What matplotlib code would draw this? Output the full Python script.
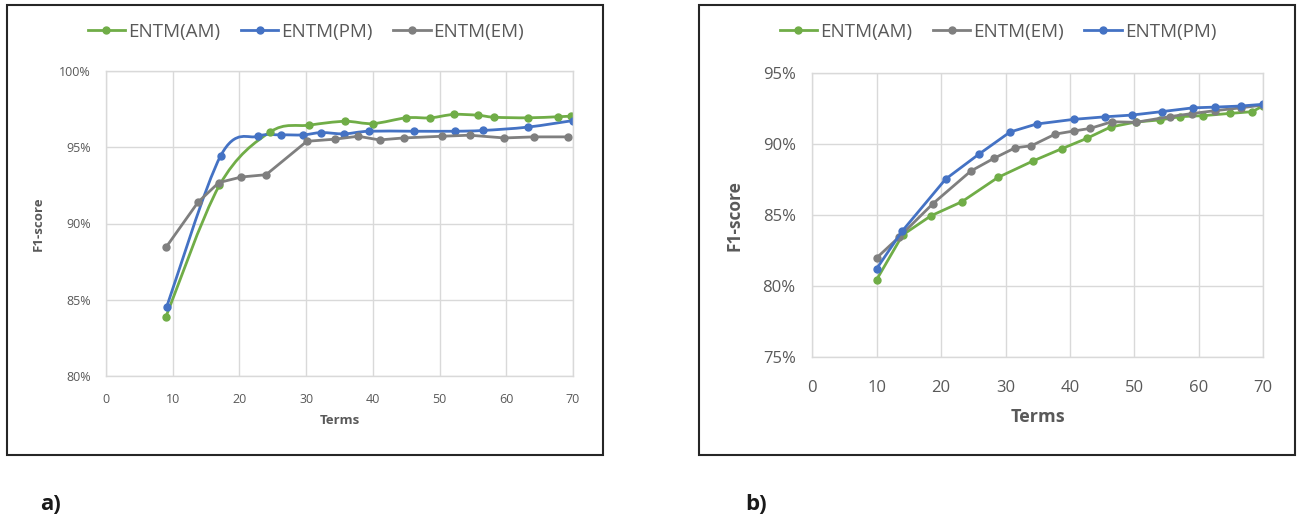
import matplotlib
matplotlib.use('Agg')
import matplotlib.pyplot as plt
from matplotlib.path import Path
from matplotlib.patches import PathPatch, Rectangle
from matplotlib.ticker import FuncFormatter

plt.rcParams['font.family'] = ['Open Sans', 'DejaVu Sans']

# 数据
terms_ticks = [0, 10, 20, 30, 40, 50, 60, 70]

# a) 左图
a_am_x = [9, 17, 24.6, 30.5, 35.8, 40, 45, 48.6, 52.1, 55.7, 58.2, 63.2, 67.7, 69.7]
a_am_y = [83.9, 92.5, 96.0, 96.45, 96.7, 96.55, 96.93, 96.93, 97.15, 97.1, 96.97, 96.93, 97.0, 97.04]
a_pm_x = [9.1, 17.2, 22.8, 26.2, 29.5, 32.3, 35.7, 39.4, 46.1, 52.3, 56.5, 63.2, 70.0]
a_pm_y = [84.54, 94.45, 95.72, 95.81, 95.81, 95.96, 95.88, 96.05, 96.05, 96.05, 96.1, 96.32, 96.75]
a_em_x = [9, 13.8, 16.9, 20.3, 24.0, 30.1, 34.3, 37.8, 41.0, 44.6, 50.3, 54.5, 59.7, 64.1, 69.3]
a_em_y = [88.44, 91.4, 92.68, 93.05, 93.2, 95.39, 95.53, 95.72, 95.48, 95.61, 95.72, 95.79, 95.61, 95.68, 95.68]
a_yticks = [80, 85, 90, 95, 100]

# b) 右图
b_am_x = [10, 14, 18.4, 23.2, 28.8, 34.2, 38.7, 42.6, 46.3, 50.2, 54.0, 57.1, 60.7, 64.9, 68.3, 70]
b_am_y = [80.47, 83.6, 84.95, 85.94, 87.65, 88.8, 89.67, 90.4, 91.2, 91.55, 91.7, 91.93, 92.0, 92.16, 92.28, 92.7]
b_em_x = [10, 13.5, 18.7, 24.6, 28.2, 31.5, 34.0, 37.7, 40.6, 43.1, 46.5, 50.2, 55.5, 59.0, 62.5, 66.5, 70]
b_em_y = [82.0, 83.47, 85.8, 88.1, 89.0, 89.74, 89.88, 90.7, 90.92, 91.1, 91.57, 91.53, 91.93, 92.15, 92.35, 92.55, 92.75]
b_pm_x = [10, 13.9, 20.7, 25.8, 30.7, 34.8, 40.6, 45.5, 49.6, 54.2, 59.1, 62.5, 66.6, 70]
b_pm_y = [81.24, 83.85, 87.54, 89.27, 90.85, 91.41, 91.74, 91.92, 92.04, 92.28, 92.55, 92.6, 92.68, 92.8]
b_yticks = [75, 80, 85, 90, 95]

GREEN = '#70AD47'
BLUE = '#4472C4'
GRAY = '#7F7F7F'
GRID = '#D9D9D9'
TXT = '#595959'


def smooth_path(xs, ys):
    # Excel 式平滑线：用三次贝塞尔曲线连接数据点
    pts = list(zip(xs, ys))
    verts = [pts[0]]
    codes = [Path.MOVETO]
    n = len(pts)
    for i in range(n - 1):
        p0 = pts[i - 1] if i > 0 else pts[i]
        p1 = pts[i]
        p2 = pts[i + 1]
        p3 = pts[i + 2] if i + 2 < n else pts[i + 1]
        c1 = (p1[0] + (p2[0] - p0[0]) / 6, p1[1] + (p2[1] - p0[1]) / 6)
        c2 = (p2[0] - (p3[0] - p1[0]) / 6, p2[1] - (p3[1] - p1[1]) / 6)
        verts += [c1, c2, p2]
        codes += [Path.CURVE4] * 3
    return Path(verts, codes)


def draw_series(ax, xs, ys, color, label, smooth, lw, ms):
    if smooth:
        ax.add_patch(PathPatch(smooth_path(xs, ys), facecolor='none', edgecolor=color,
                               lw=lw, capstyle='round', joinstyle='round'))
        ax.plot(xs, ys, linestyle='none', marker='o', color=color, markersize=ms, label=None)
        ax.plot([], [], '-o', color=color, lw=lw, markersize=ms, label=label)
    else:
        ax.plot(xs, ys, '-o', color=color, lw=lw, markersize=ms, label=label)


def style_axes(ax, yticks, tick_fs, xpad, ypad):
    ax.set_xlim(0, 70)
    ax.set_ylim(yticks[0], yticks[-1])
    ax.set_xticks(terms_ticks)
    ax.set_yticks(yticks)
    ax.yaxis.set_major_formatter(FuncFormatter(lambda v, p: f'{v:.0f}%'))
    ax.grid(True, color=GRID, lw=1)
    ax.set_axisbelow(True)
    for s in ax.spines.values():
        s.set_color(GRID)
        s.set_linewidth(1)
    ax.tick_params(length=0, labelsize=tick_fs, colors=TXT)
    ax.tick_params(axis='x', pad=xpad)
    ax.tick_params(axis='y', pad=ypad)


fig = plt.figure(figsize=(13, 5.24), dpi=100)
W, H = 1300, 524

# 外框
for x0, x1 in [(7, 603), (699, 1295)]:
    fig.patches.append(Rectangle((x0 / W, 1 - 455 / H), (x1 - x0) / W, 450 / H,
                                 transform=fig.transFigure, fill=False,
                                 edgecolor='#262626', lw=1.5))

leg_kw = dict(loc='center', ncol=3, frameon=False, fontsize=13.5, handlelength=2.0,
              handletextpad=0.15, columnspacing=1.1, labelcolor=TXT,
              bbox_transform=fig.transFigure)

# 左图 a)
ax1 = fig.add_axes([106 / W, 1 - 376 / H, (573 - 106) / W, (376 - 71) / H])
draw_series(ax1, a_am_x, a_am_y, GREEN, 'ENTM(AM)', True, 2.0, 5)
draw_series(ax1, a_pm_x, a_pm_y, BLUE, 'ENTM(PM)', True, 2.0, 5)
draw_series(ax1, a_em_x, a_em_y, GRAY, 'ENTM(EM)', False, 2.0, 5)
style_axes(ax1, a_yticks, 9, 12, 11)
ax1.set_xlabel('Terms', fontsize=9.5, fontweight='bold', color=TXT, labelpad=6)
ax1.set_ylabel('F1-score', fontsize=9.5, fontweight='bold', color=TXT, labelpad=10)
ax1.legend(bbox_to_anchor=(306 / W, 1 - 32 / H), **leg_kw)

# 右图 b)
ax2 = fig.add_axes([812.3 / W, 1 - 357.3 / H, (1263.3 - 812.3) / W, (357.3 - 73) / H])
draw_series(ax2, b_am_x, b_am_y, GREEN, 'ENTM(AM)', False, 2.0, 5)
draw_series(ax2, b_em_x, b_em_y, GRAY, 'ENTM(EM)', False, 2.0, 5)
draw_series(ax2, b_pm_x, b_pm_y, BLUE, 'ENTM(PM)', False, 2.0, 5)
style_axes(ax2, b_yticks, 12, 16, 12)
ax2.set_xlabel('Terms', fontsize=13, fontweight='bold', color=TXT, labelpad=9)
ax2.set_ylabel('F1-score', fontsize=12.5, fontweight='bold', color=TXT, labelpad=14)
ax2.legend(bbox_to_anchor=(998 / W, 1 - 32 / H), **leg_kw)

fig.text(40 / W, 1 - 505 / H, 'a)', fontsize=16, fontweight='bold', va='center', color='#1a1a1a')
fig.text(745 / W, 1 - 505 / H, 'b)', fontsize=16, fontweight='bold', va='center', color='#1a1a1a')

fig.savefig('out.png', dpi=100)
